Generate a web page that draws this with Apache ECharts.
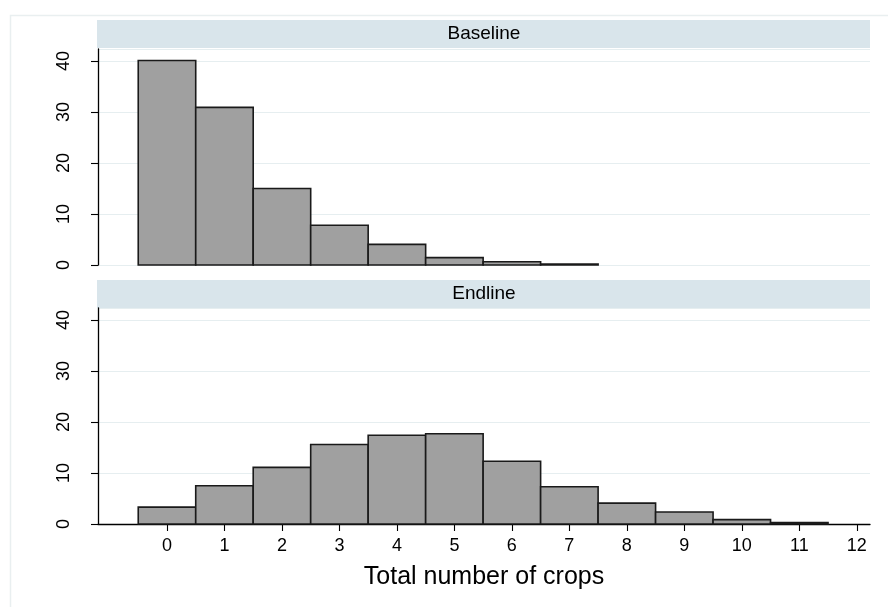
<!DOCTYPE html>
<html>
<head>
<meta charset="utf-8">
<script src="https://cdn.jsdelivr.net/npm/echarts@6/dist/echarts.min.js"></script>
<style>
  html, body { margin: 0; padding: 0; background: #ffffff; }
  #chart { width: 888px; height: 607px; }
</style>
</head>
<body>
<div id="chart"></div>
<script>
// Histogram bins: total number of crops (bin centres)
const baselineBins = [0, 1, 2, 3, 4, 5, 6, 7];
const baselinePercent = [40.1, 30.9, 15.0, 7.8, 4.05, 1.45, 0.65, 0.2];

const endlineBins = [0, 1, 2, 3, 4, 5, 6, 7, 8, 9, 10, 11];
const endlinePercent = [3.3, 7.5, 11.1, 15.6, 17.4, 17.7, 12.3, 7.3, 4.1, 2.35, 0.85, 0.3];

const xTickValues = [0, 1, 2, 3, 4, 5, 6, 7, 8, 9, 10, 11, 12];
const panelTitles = ['Baseline', 'Endline'];
const xAxisTitle = 'Total number of crops';

const FONT = '"Liberation Sans", Arial, sans-serif';
const GRID_COLOR = '#e6eef0';

// Each bin is drawn as a rectangle one unit wide, centred on its value
function histItem(params, api) {
  const x = api.value(0);
  const v = api.value(1);
  const p0 = api.coord([x - 0.5, v]);
  const p1 = api.coord([x + 0.5, 0]);
  return {
    type: 'rect',
    shape: { x: p0[0], y: p0[1], width: p1[0] - p0[0], height: p1[1] - p0[1] },
    style: { fill: '#a0a0a0', stroke: '#1a1a1a', lineWidth: 1.6 }
  };
}

function yAxisCfg(gridIndex) {
  return {
    type: 'value', gridIndex: gridIndex, min: 0, max: 42.35, interval: 10,
    axisLine: { show: true, onZero: false, lineStyle: { color: '#000', width: 1.3 } },
    axisTick: { show: true, length: 7, lineStyle: { color: '#000', width: 1.1 } },
    axisLabel: { rotate: 90, margin: 25, color: '#000', fontFamily: FONT, fontSize: 18,
                 showMaxLabel: false },
    splitLine: { show: true, lineStyle: { color: GRID_COLOR, width: 1.2 } }
  };
}

const chart = echarts.init(document.getElementById('chart'), null, { renderer: 'canvas' });

chart.setOption({
  animation: false,
  backgroundColor: '#ffffff',
  grid: [
    { left: 98, top: 49, width: 772, height: 216 },
    { left: 98, top: 308, width: 772, height: 216 }
  ],
  xAxis: [
    { type: 'value', gridIndex: 0, min: -1.2, max: 12.23,
      axisLine: { show: false }, axisTick: { show: false },
      axisLabel: { show: false }, splitLine: { show: false } },
    { type: 'value', gridIndex: 1, min: -1.2, max: 12.23,
      axisLine: { show: true, onZero: false, lineStyle: { color: '#000', width: 1.3 } },
      axisTick: { show: true, length: 7, customValues: xTickValues,
                  lineStyle: { color: '#000', width: 1.1 } },
      axisLabel: { show: true, customValues: xTickValues, margin: 13,
                   color: '#000', fontFamily: FONT, fontSize: 18 },
      splitLine: { show: false },
      name: xAxisTitle, nameLocation: 'middle', nameGap: 41,
      nameTextStyle: { color: '#000', fontFamily: FONT, fontSize: 25 } }
  ],
  yAxis: [yAxisCfg(0), yAxisCfg(1)],
  series: [
    { type: 'custom', xAxisIndex: 0, yAxisIndex: 0, renderItem: histItem,
      encode: { x: 0, y: 1 },
      data: baselineBins.map((b, i) => [b, baselinePercent[i]]) },
    { type: 'custom', xAxisIndex: 1, yAxisIndex: 1, renderItem: histItem,
      encode: { x: 0, y: 1 },
      data: endlineBins.map((b, i) => [b, endlinePercent[i]]) }
  ],
  graphic: [
    // outer plot-region frame
    { type: 'rect', z: -10, shape: { x: 10.5, y: 15.5, width: 900, height: 700 },
      style: { fill: 'none', stroke: '#e9eff0', lineWidth: 1.5 } },
    // panel strips
    { type: 'rect', shape: { x: 97, y: 20, width: 773, height: 28 },
      style: { fill: '#d9e5eb' } },
    { type: 'text', x: 484, y: 34,
      style: { text: panelTitles[0], fill: '#000', font: '19px ' + FONT,
               textAlign: 'center', textVerticalAlign: 'middle' } },
    { type: 'rect', shape: { x: 97, y: 280, width: 773, height: 28 },
      style: { fill: '#d9e5eb' } },
    { type: 'text', x: 484, y: 294,
      style: { text: panelTitles[1], fill: '#000', font: '19px ' + FONT,
               textAlign: 'center', textVerticalAlign: 'middle' } }
  ]
});
</script>
</body>
</html>
